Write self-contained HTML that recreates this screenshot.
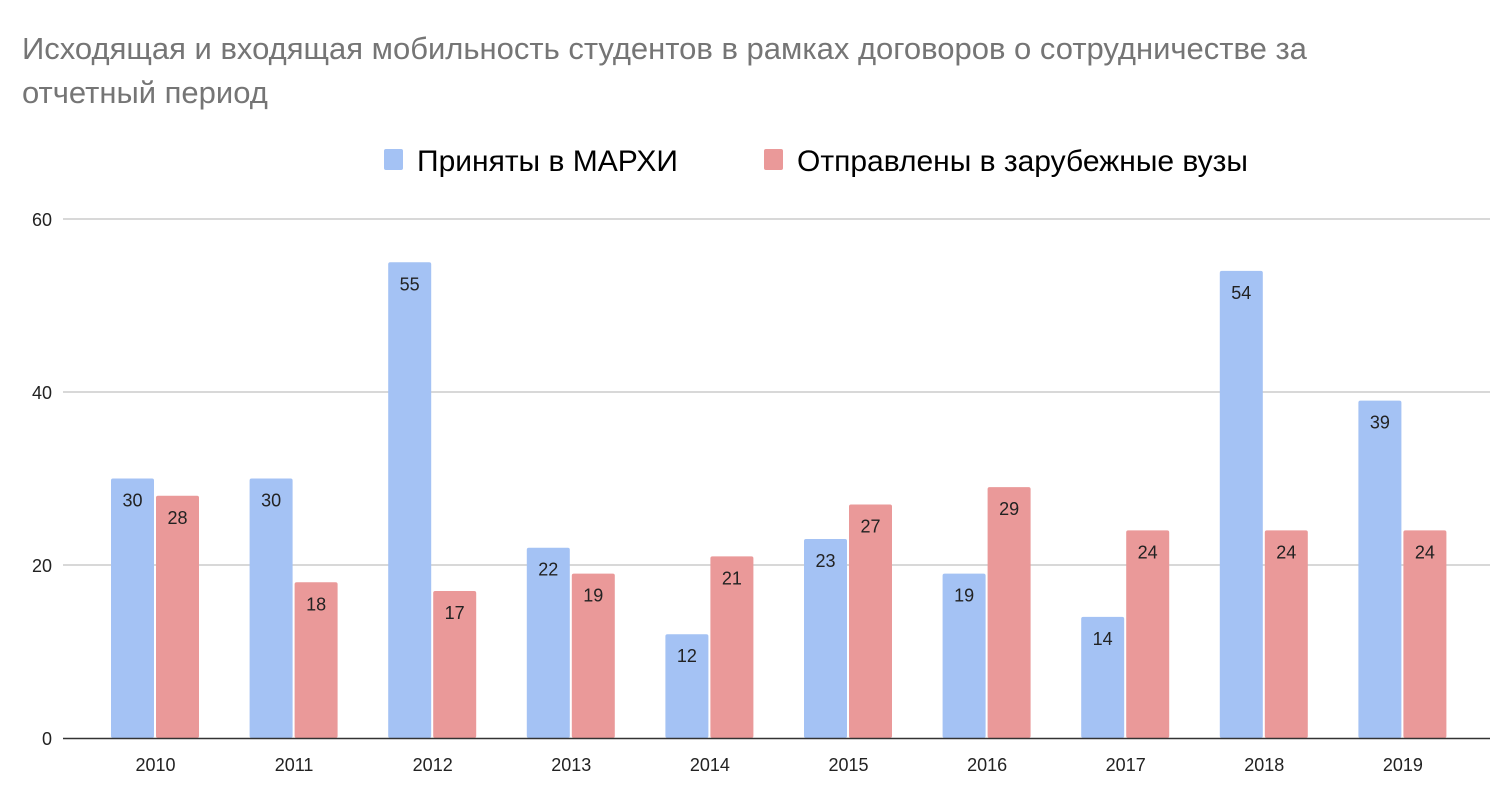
<!DOCTYPE html>
<html><head><meta charset="utf-8"><style>
body{margin:0;background:#fff;width:1500px;height:794px;overflow:hidden;font-family:"Liberation Sans",Arial,sans-serif}
</style></head><body>
<svg width="1500" height="794" xmlns="http://www.w3.org/2000/svg" font-family="Liberation Sans, Arial, sans-serif">
<text x="22" y="59" font-size="31" fill="#757575">Исходящая и входящая мобильность студентов в рамках договоров о сотрудничестве за</text>
<text x="22" y="103" font-size="31" fill="#757575">отчетный период</text>
<rect x="384" y="149" width="19" height="21" rx="2" fill="#a4c2f4"/>
<text x="417" y="171" font-size="30" fill="#000">Приняты в МАРХИ</text>
<rect x="764" y="149" width="19" height="21" rx="2" fill="#ea9999"/>
<text x="797" y="171" font-size="30" fill="#000">Отправлены в зарубежные вузы</text>
<g stroke="#cccccc" stroke-width="1.5">
<line x1="63" y1="219" x2="1490" y2="219"/>
<line x1="63" y1="392" x2="1490" y2="392"/>
<line x1="63" y1="565" x2="1490" y2="565"/>
</g>
<g font-size="18" fill="#222" text-anchor="end">
<text x="52" y="226">60</text><text x="52" y="399">40</text><text x="52" y="572">20</text><text x="52" y="745">0</text>
</g>
<g fill="#a4c2f4">
<rect x="111" y="478.5" width="43" height="259.5" rx="2"/>
<rect x="249.6" y="478.5" width="43" height="259.5" rx="2"/>
<rect x="388.2" y="262.25" width="43" height="475.75" rx="2"/>
<rect x="526.8" y="547.7" width="43" height="190.3" rx="2"/>
<rect x="665.4" y="634.2" width="43" height="103.8" rx="2"/>
<rect x="804" y="539.05" width="43" height="198.95" rx="2"/>
<rect x="942.6" y="573.65" width="43" height="164.35" rx="2"/>
<rect x="1081.2" y="616.9" width="43" height="121.1" rx="2"/>
<rect x="1219.8" y="270.9" width="43" height="467.1" rx="2"/>
<rect x="1358.4" y="400.65" width="43" height="337.35" rx="2"/>
</g>
<g fill="#ea9999">
<rect x="156" y="495.8" width="43" height="242.2" rx="2"/>
<rect x="294.6" y="582.3" width="43" height="155.7" rx="2"/>
<rect x="433.2" y="590.95" width="43" height="147.05" rx="2"/>
<rect x="571.8" y="573.65" width="43" height="164.35" rx="2"/>
<rect x="710.4" y="556.35" width="43" height="181.65" rx="2"/>
<rect x="849" y="504.45" width="43" height="233.55" rx="2"/>
<rect x="987.6" y="487.15" width="43" height="250.85" rx="2"/>
<rect x="1126.2" y="530.4" width="43" height="207.6" rx="2"/>
<rect x="1264.8" y="530.4" width="43" height="207.6" rx="2"/>
<rect x="1403.4" y="530.4" width="43" height="207.6" rx="2"/>
</g>
<g font-size="18" fill="#222" text-anchor="middle">
<text x="132.5" y="506.5">30</text><text x="271.1" y="506.5">30</text><text x="409.7" y="290.25">55</text><text x="548.3" y="575.7">22</text><text x="686.9" y="662.2">12</text><text x="825.5" y="567.05">23</text><text x="964.1" y="601.65">19</text><text x="1102.7" y="644.9">14</text><text x="1241.3" y="298.9">54</text><text x="1379.9" y="428.65">39</text>
<text x="177.5" y="523.8">28</text><text x="316.1" y="610.3">18</text><text x="454.7" y="618.95">17</text><text x="593.3" y="601.65">19</text><text x="731.9" y="584.35">21</text><text x="870.5" y="532.45">27</text><text x="1009.1" y="515.15">29</text><text x="1147.7" y="558.4">24</text><text x="1286.3" y="558.4">24</text><text x="1424.9" y="558.4">24</text>
<text x="155.5" y="771">2010</text><text x="294.1" y="771">2011</text><text x="432.7" y="771">2012</text><text x="571.3" y="771">2013</text><text x="709.9" y="771">2014</text><text x="848.5" y="771">2015</text><text x="987.1" y="771">2016</text><text x="1125.7" y="771">2017</text><text x="1264.3" y="771">2018</text><text x="1402.9" y="771">2019</text>
</g>
<line x1="63" y1="738.5" x2="1490" y2="738.5" stroke="#333" stroke-width="1.5"/>
</svg>
</body></html>
